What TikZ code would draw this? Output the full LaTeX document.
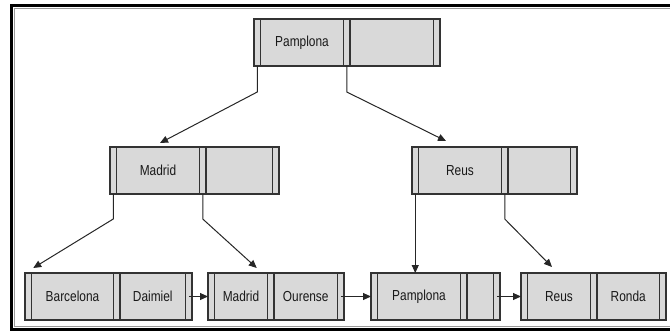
\documentclass[tikz,border=0pt]{standalone}
\usepackage{fontspec}
\setmainfont{Liberation Sans}[FakeStretch=0.82]
\usetikzlibrary{arrows.meta,positioning}

% one node of the tree: name, x, y, width of key 1, width of key 2, key 1, key 2
\newcommand{\btnode}[7]{
  \node[ptr,anchor=north west] (#1p0) at (#2,#3) {};
  \node[keycell,minimum width=#4,right=0pt of #1p0] (#1k1) {#6};
  \node[ptr,right=0pt of #1k1] (#1p1) {};
  \node[keycell,minimum width=#5,right=0pt of #1p1] (#1k2) {#7};
  \node[ptr,right=0pt of #1k2] (#1p2) {};
}

\begin{document}
\begin{tikzpicture}[x=1pt,y=-1pt,
    cell/.style={draw=black!80,fill=black!15,line width=1.1pt,minimum height=47pt,
      inner sep=0pt,outer sep=0pt},
    ptr/.style={cell,minimum width=6.5pt},
    keycell/.style={cell,text=black!90,font=\fontsize{14.5}{16}\selectfont},
    link/.style={black!85,line width=1pt,-{Triangle[length=8pt,width=7pt]}}]
  \useasboundingbox (0,0) rectangle (670,333);
  % frame
  \draw[line width=2.5pt] (11.25,5.5) rectangle (673,329.5);
  \draw[black!40,line width=1.3pt] (14.5,8.5) rectangle (673,326.5);

  % root
  \btnode{root}{254}{19}{83}{83.5}{Pamplona}{}
  % second level
  \btnode{mad}{110}{147}{83}{66.5}{Madrid}{}
  \btnode{reus}{412}{147}{83}{62.5}{Reus}{}
  % leaves
  \btnode{lfa}{25}{273}{82}{65.5}{Barcelona}{Daimiel}
  \btnode{lfb}{208}{273}{53}{63.5}{Madrid}{Ourense}
  \btnode{lfc}{371}{273}{83}{26.5}{Pamplona}{}
  \btnode{lfd}{521}{273}{63}{62.5}{Reus}{Ronda}

  % pointers down the tree
  \draw[link] (rootp0.south) -- ++(0,26) -- ([xshift=2pt,yshift=4pt]madk1.north);
  \draw[link] (rootp1.south) -- ++(0,26) -- ([xshift=-14pt,yshift=6pt]reusk1.north);
  \draw[link] (madp0.south) -- ++(0,25) -- ([xshift=5pt,yshift=5pt]lfap0.north);
  \draw[link] (madp1.south) -- ++(0,25) -- ([xshift=-14pt,yshift=5pt]lfbp1.north);
  \draw[link] (reusp0.south) -- (reusp0.south |- lfck1.north);
  \draw[link] (reusp1.south) -- ++(0,25) -- ([xshift=-7pt,yshift=6pt]lfdk1.north);

  % leaf chain
  \draw[link] (lfap2.center) -- (lfbp0.west);
  \draw[link] (lfbp2.center) -- (lfcp0.west);
  \draw[link] (lfcp2.center) -- (lfdp0.west);
\end{tikzpicture}
\end{document}
